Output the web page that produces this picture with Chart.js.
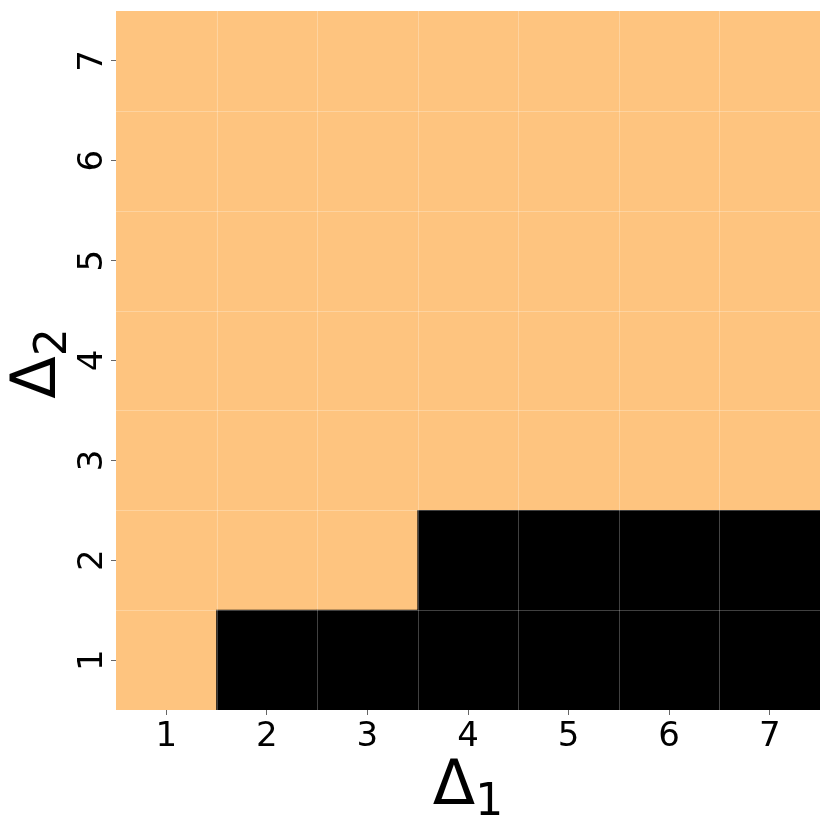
<!DOCTYPE html>
<html>
<head>
<meta charset="utf-8">
<script src="https://cdn.jsdelivr.net/npm/chart.js@4"></script>
<style>
  html, body { margin: 0; padding: 0; background: #fff; }
  #wrap { width: 831px; height: 826px; }
</style>
</head>
<body>
<div id="wrap"><canvas id="heat" width="831" height="826"></canvas></div>
<script>
// Δ1 along x, Δ2 along y
const deltaOne = ["1", "2", "3", "4", "5", "6", "7"];
const deltaTwo = [1, 2, 3, 4, 5, 6, 7];

// 1 = black cell, 0 = orange cell; one row per Δ2 value (bottom to top)
const row1 = [0, 1, 1, 1, 1, 1, 1];
const row2 = [0, 0, 0, 1, 1, 1, 1];
const row3 = [0, 0, 0, 0, 0, 0, 0];
const row4 = [0, 0, 0, 0, 0, 0, 0];
const row5 = [0, 0, 0, 0, 0, 0, 0];
const row6 = [0, 0, 0, 0, 0, 0, 0];
const row7 = [0, 0, 0, 0, 0, 0, 0];
const cells = [row1, row2, row3, row4, row5, row6, row7];

const ORANGE = "#fec47f";
const BLACK = "#000000";
const FONT = "'DejaVu Sans', sans-serif";

const datasets = deltaTwo.map((d2, r) => ({
  label: "Δ2=" + d2,
  data: deltaOne.map(() => [d2 - 0.5, d2 + 0.5]),
  backgroundColor: cells[r].map((v) => (v ? BLACK : ORANGE)),
  borderWidth: 0,
  barPercentage: 1,
  categoryPercentage: 1,
  grouped: false,
}));

// white-ish lines between cells, drawn on top of the bars
const cellGrid = {
  id: "cellGrid",
  afterDatasetsDraw(chart) {
    const { ctx, chartArea, scales } = chart;
    const x = scales.x;
    const y = scales.y;
    ctx.save();
    ctx.strokeStyle = "rgba(255,255,255,0.25)";
    ctx.lineWidth = 1;
    ctx.beginPath();
    for (let i = 0; i < deltaOne.length - 1; i++) {
      const px = Math.round((x.getPixelForValue(i) + x.getPixelForValue(i + 1)) / 2) + 0.5;
      ctx.moveTo(px, chartArea.top);
      ctx.lineTo(px, chartArea.bottom);
    }
    for (let j = 0; j < deltaTwo.length - 1; j++) {
      const py = Math.round(y.getPixelForValue(deltaTwo[j] + 0.5)) + 0.5;
      ctx.moveTo(chartArea.left, py);
      ctx.lineTo(chartArea.right, py);
    }
    ctx.stroke();
    ctx.restore();
  },
};

// rotated y tick labels and the two axis titles with subscripts
const labelsPlugin = {
  id: "labelsPlugin",
  afterDraw(chart) {
    const { ctx, chartArea, scales } = chart;
    const y = scales.y;
    ctx.save();
    ctx.fillStyle = "#000";

    // y tick labels, reading bottom to top
    ctx.font = "34px " + FONT;
    ctx.textAlign = "center";
    ctx.textBaseline = "alphabetic";
    deltaTwo.forEach((v) => {
      const py = y.getPixelForValue(v);
      ctx.save();
      ctx.translate(102, py);
      ctx.rotate(-Math.PI / 2);
      ctx.fillText(String(v), 0, 0);
      ctx.restore();
    });

    // x title: Δ1
    const cx = (chartArea.left + chartArea.right) / 2;
    drawSub(ctx, "Δ", "1", cx, 804);

    // y title: Δ2 rotated
    const cy = (chartArea.top + chartArea.bottom) / 2;
    ctx.save();
    ctx.translate(55, cy + 3);
    ctx.rotate(-Math.PI / 2);
    drawSub(ctx, "Δ", "2", 0, 0);
    ctx.restore();

    ctx.restore();
  },
};

function drawSub(ctx, main, sub, cx, baseline) {
  ctx.textAlign = "left";
  ctx.textBaseline = "alphabetic";
  ctx.font = "62px " + FONT;
  const wMain = ctx.measureText(main).width;
  ctx.font = "44px " + FONT;
  const wSub = ctx.measureText(sub).width;
  const start = cx - (wMain + wSub) / 2;
  ctx.font = "62px " + FONT;
  ctx.fillText(main, start, baseline);
  ctx.font = "44px " + FONT;
  ctx.fillText(sub, start + wMain, baseline + 11);
}

new Chart(document.getElementById("heat"), {
  type: "bar",
  data: { labels: deltaOne, datasets },
  options: {
    responsive: false,
    animation: false,
    layout: { padding: { top: 11, right: 11, left: 0, bottom: 0 } },
    plugins: {
      legend: { display: false },
      tooltip: { enabled: false },
    },
    scales: {
      x: {
        type: "category",
        offset: true,
        grid: {
          offset: false,
          drawOnChartArea: false,
          drawTicks: true,
          tickLength: 5,
          color: "#666",
        },
        border: { display: false },
        ticks: {
          color: "#000",
          font: { family: FONT, size: 34 },
          padding: 2,
          maxRotation: 0,
        },
        afterFit: (s) => { s.height = 116; },
      },
      y: {
        type: "linear",
        min: 0.5,
        max: 7.5,
        grid: {
          drawOnChartArea: false,
          drawTicks: true,
          tickLength: 5,
          color: "#666",
        },
        border: { display: false },
        ticks: { display: false },
        afterBuildTicks: (s) => {
          s.ticks = deltaTwo.map((v) => ({ value: v }));
        },
        afterFit: (s) => { s.width = 116; },
      },
    },
  },
  plugins: [cellGrid, labelsPlugin],
});
</script>
</body>
</html>
